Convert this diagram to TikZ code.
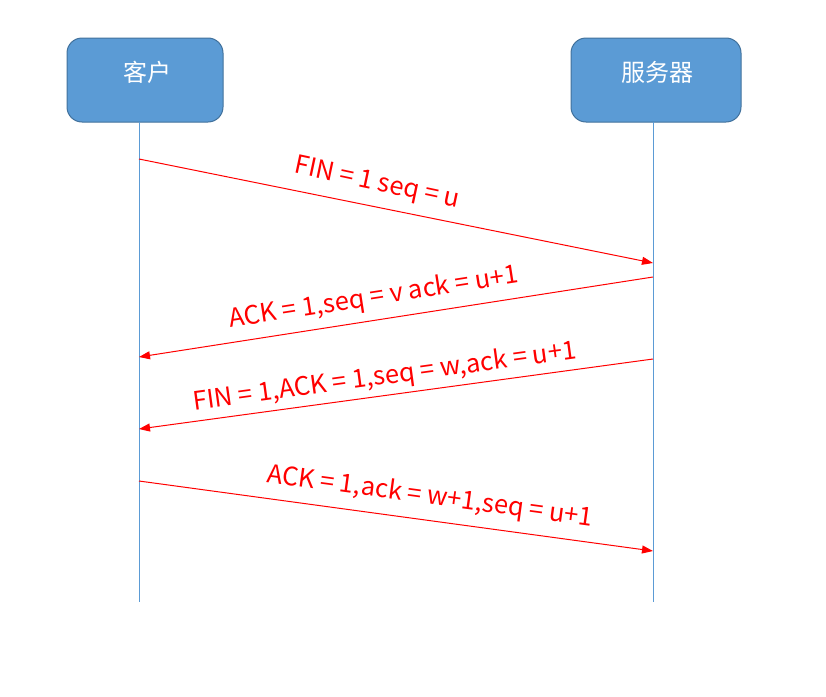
\documentclass[tikz,border=0pt]{standalone}
\usepackage{fontspec}
\setmainfont{Noto Sans CJK SC}
\usetikzlibrary{arrows.meta}
\definecolor{boxfill}{HTML}{5B9BD5}
\definecolor{boxline}{HTML}{41719C}
\definecolor{lifeline}{HTML}{5B9BD5}
\tikzset{
  actor/.style={draw=boxline, fill=boxfill, rounded corners=15pt, line width=1pt, inner sep=0pt},
  actortext/.style={text=white, font=\fontsize{24}{28}\selectfont},
  life/.style={draw=lifeline, line width=1pt},
  msg/.style={draw=red, line width=1pt, -{Triangle[length=11pt,width=8pt]}},
  msglabel/.style={text=red, font=\fontsize{25.5}{30}\selectfont, inner sep=0pt}
}
\begin{document}
\begin{tikzpicture}[x=1pt,y=-1pt]
\useasboundingbox (0,0) rectangle (826,696);
\node[actor, minimum width=156pt, minimum height=84pt] (client) at (145,80) {};
\node[actor, minimum width=170pt, minimum height=84pt] (server) at (656,80) {};
\node[actortext] (clientlbl) at (147,72) {客户};
\node[actortext] (serverlbl) at (657,72) {服务器};
\coordinate (ctop) at (139,122);
\coordinate (cbot) at (139,602);
\coordinate (stop) at (653,122);
\coordinate (sbot) at (653,602);
\draw[life] (ctop) -- (cbot);
\draw[life] (stop) -- (sbot);
\coordinate (a1) at (139,159); \coordinate (b1) at (653,263);
\coordinate (a2) at (653,277); \coordinate (b2) at (139,357);
\coordinate (a3) at (653,359); \coordinate (b3) at (139,429);
\coordinate (a4) at (139,481); \coordinate (b4) at (653,551);
\draw[msg] (a1) -- (b1);
\draw[msg] (a2) -- (b2);
\draw[msg] (a3) -- (b3);
\draw[msg] (a4) -- (b4);
\node[msglabel, rotate=-12] (l1) at (377,184) {FIN = 1 seq = u};
\node[msglabel, rotate=8.85] (l2) at (374,298) {ACK = 1,seq = v ack = u+1};
\node[msglabel, rotate=7.75] (l3) at (385,377) {FIN = 1,ACK = 1,seq = w,ack = u+1};
\node[msglabel, rotate=-7.75] (l4) at (430,497) {ACK = 1,ack = w+1,seq = u+1};
\end{tikzpicture}
\end{document}
